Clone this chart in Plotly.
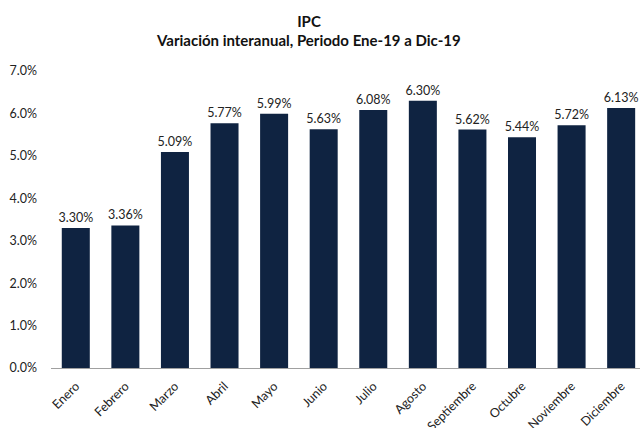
import plotly.graph_objects as go

meses = ["Enero", "Febrero", "Marzo", "Abril", "Mayo", "Junio", "Julio",
         "Agosto", "Septiembre", "Octubre", "Noviembre", "Diciembre"]
ipc = [3.30, 3.36, 5.09, 5.77, 5.99, 5.63, 6.08, 6.30, 5.62, 5.44, 5.72, 6.13]
tick_vals = [0, 1, 2, 3, 4, 5, 6, 7]
tick_text = ["0.0%", "1.0%", "2.0%", "3.0%", "4.0%", "5.0%", "6.0%", "7.0%"]
titulo = "IPC"
subtitulo = "Variación interanual, Periodo Ene-19 a Dic-19"

font = "Lato, Open Sans, Arial, sans-serif"

L, R, T, B = 51.2, 0, 71, 59.5
W, H = 640, 428

fig = go.Figure(go.Bar(
    x=meses, y=ipc,
    marker=dict(color="#0F2341", line=dict(width=0)),
    text=[f"{v:.2f}%" for v in ipc],
    textposition="outside",
    constraintext="none",
    textfont=dict(size=12.5, color="#222222", family=font),
    cliponaxis=False,
    width=0.565,
))

title_cx = 309
fig.update_layout(
    width=W, height=H,
    margin=dict(l=L, r=R, t=T, b=B, autoexpand=False),
    paper_bgcolor="white", plot_bgcolor="white",
    title=dict(
        text=f"<b>{titulo}</b>",
        x=title_cx / W, xanchor="center", xref="container",
        y=1 - 22 / H, yanchor="middle", yref="container",
        font=dict(size=15, color="#111111", family=font),
    ),
    showlegend=False,
)
fig.add_annotation(
    text=f"<b>{subtitulo}</b>",
    xref="paper", yref="paper", x=(title_cx - L) / (W - L - R), xanchor="center",
    y=1 + (T - 40) / (H - T - B), yanchor="middle", showarrow=False,
    font=dict(size=15, color="#111111", family=font),
)
fig.update_xaxes(
    range=[-0.5, 11.38],
    tickangle=-45, tickfont=dict(size=12.5, color="#222222", family=font),
    showline=True, linecolor="#A0A0A0", linewidth=1, ticks="",
    ticklabelstandoff=5, automargin=False,
)
fig.update_yaxes(
    range=[0, 7], tickvals=tick_vals, ticktext=tick_text,
    tickfont=dict(size=12.5, color="#222222", family=font),
    showgrid=False, zeroline=False, showline=False, ticks="",
    ticklabelstandoff=13, automargin=False,
)

fig.write_html(
    "out.html",
    config={"displayModeBar": False},
    post_script="document.body.style.margin='0';document.body.style.overflow='hidden';",
)
